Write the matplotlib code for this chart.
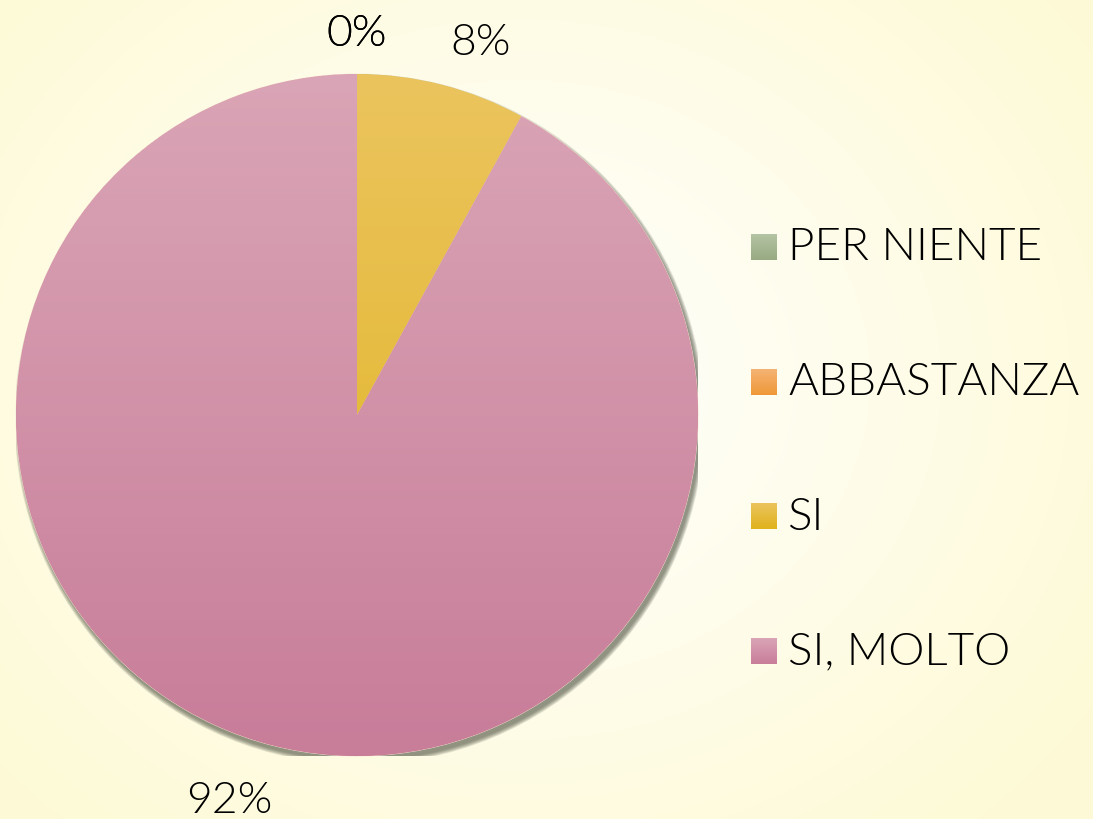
import numpy as np
import matplotlib
matplotlib.use('Agg')
import matplotlib.pyplot as plt
from matplotlib.colors import LinearSegmentedColormap
from matplotlib.patches import Circle

categories = ['PER NIENTE', 'ABBASTANZA', 'SI', 'SI, MOLTO']
values = [0, 0, 8, 92]
# top / bottom colour of each slice gradient
tops = ['#b5c4a4', '#f5b374', '#ebc45e', '#daa5b6']
bottoms = ['#97aa82', '#ef9838', '#e0b21c', '#c87d99']

plt.rcParams['font.family'] = ['Lato', 'DejaVu Sans']

fig = plt.figure(figsize=(10.93, 8.2), dpi=100)

# background: white centre fading to pale yellow
bg = fig.add_axes([0, 0, 1, 1], zorder=0)
yy, xx = np.mgrid[0:820, 0:1093]
d = np.sqrt(((xx - 520) / 700.0) ** 2 + ((yy - 380) / 600.0) ** 2)
d = np.clip(d, 0, 1)
c0 = np.array([1.0, 1.0, 0.995])
c1 = np.array([0.995, 0.980, 0.840])
img = c0[None, None, :] * (1 - d[..., None]) + c1[None, None, :] * d[..., None]
bg.imshow(img, extent=(0, 1, 0, 1), aspect='auto', origin='upper')
bg.axis('off')

ax = fig.add_axes([0.01464, 0.0768, 0.624, 0.8317], zorder=1)
ax.set_aspect('equal')
ax.axis('off')

# drop shadow, down and to the right
px = 2 / 682.0
for k in range(6):
    ax.add_patch(Circle((2.5 * px, -4.5 * px), 1.0 + k * 0.8 * px, color='#4c5040',
                        alpha=0.14, lw=0, zorder=0))

wedges, texts, autotexts = ax.pie(values, startangle=90, counterclock=False, radius=1,
                                  autopct='%1.0f%%', pctdistance=1.15,
                                  wedgeprops=dict(linewidth=0.6, edgecolor='#f4e6d8'),
                                  textprops=dict(fontsize=32, color='black',
                                                 fontweight=300))
ax.set_xlim(-1, 1)
ax.set_ylim(-1, 1)

grad = np.linspace(0, 1, 256)[:, None]
for w, t, b in zip(wedges, tops, bottoms):
    cmap = LinearSegmentedColormap.from_list('g', [t, b])
    im = ax.imshow(grad, extent=(-1, 1, -1, 1), cmap=cmap, origin='upper',
                   aspect='auto', zorder=w.get_zorder() + 0.1)
    im.set_clip_path(w)

# label placement: nudge non-empty slice labels a little clockwise, like the original
start = 90.0
for v, t in zip(values, autotexts):
    mid = start - 360 * v / 100 / 2
    start -= 360 * v / 100
    if v > 0:
        ang = np.deg2rad(mid - 4)
        r = 1.15 if v < 50 else 1.19
    else:
        ang = np.deg2rad(mid)
        r = 1.12
    t.set_position((r * np.cos(ang), r * np.sin(ang)))
    t.set_zorder(5)

# legend
for i, (name, t, b) in enumerate(zip(categories, tops, bottoms)):
    y = 1 - 248 / 820 - i * 134.5 / 820
    sq = fig.add_axes([751 / 1093, y - 13 / 820, 26 / 1093, 26 / 820], zorder=2)
    cmap = LinearSegmentedColormap.from_list('g', [t, b])
    sq.imshow(grad, cmap=cmap, aspect='auto')
    sq.axis('off')
    fig.text(788 / 1093, y, name, fontsize=33, fontweight=300,
             va='center', ha='left', zorder=3)

fig.savefig('out.png', dpi=100)
